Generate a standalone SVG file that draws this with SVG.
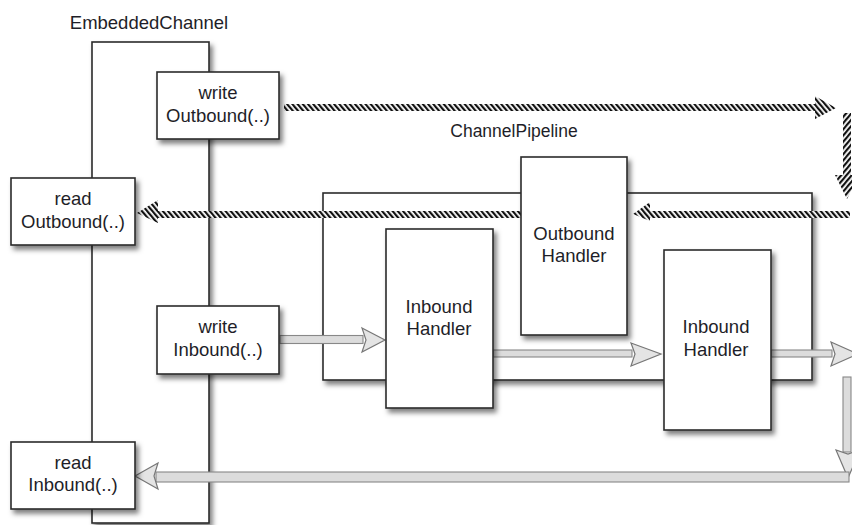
<svg xmlns="http://www.w3.org/2000/svg" width="852" height="525" viewBox="0 0 852 525">
<style>
.box{fill:#fff;stroke:#2b2b2b;stroke-width:1.6;filter:url(#sh)}
.lbl{font-family:"Liberation Sans",Arial,sans-serif;font-size:18.5px;fill:#1e1e28;text-anchor:middle}
.title{font-family:"Liberation Sans",Arial,sans-serif;fill:#1e1e28;text-anchor:middle}
.hh{fill:url(#hatchH)}
.hv{fill:url(#hatchV)}
.gshaft{fill:#dcdcdc;stroke:#888;stroke-width:1.1}
.ghead{fill:#e4e4e4;stroke:#777;stroke-width:1.2;stroke-linejoin:miter}
</style>
<defs>
<filter id="sh" x="-20%" y="-20%" width="150%" height="150%">
<feDropShadow dx="3" dy="4" stdDeviation="2.5" flood-color="#000" flood-opacity="0.5"/>
</filter>
<pattern id="hatchH" patternUnits="userSpaceOnUse" width="4" height="4" patternTransform="rotate(-40)">
<rect x="0" y="0" width="4" height="4" fill="#fff"/>
<rect x="0" y="0" width="2.2" height="4" fill="#111"/>
</pattern>
<pattern id="hatchV" patternUnits="userSpaceOnUse" width="4" height="4" patternTransform="rotate(40)">
<rect x="0" y="0" width="4" height="4" fill="#fff"/>
<rect x="0" y="0" width="2.2" height="4" fill="#111"/>
</pattern>
</defs>
<rect width="852" height="525" fill="#fff"/>

<g id="embedded-channel">
<rect class="box" x="92" y="42" width="117" height="481"/>
<text class="title" x="149" y="29" font-size="18.5">EmbeddedChannel</text>
</g>

<g id="channel-pipeline">
<rect class="box" x="323" y="193" width="489" height="187"/>
<text class="title" x="514" y="137" font-size="17.5">ChannelPipeline</text>
</g>

<g id="connectors">
<rect class="hh" x="284" y="104" width="533" height="7"/>
<polygon class="hh" points="815,96 836,108 815,119"/>
<rect class="hv" x="843" y="113" width="8" height="64"/>
<polygon class="hv" points="835,175 859,175 847,199"/>
<rect class="hh" x="650" y="211" width="200" height="7"/>
<polygon class="hh" points="650,202 633,214 650,221"/>
<rect class="hh" x="158" y="211" width="370" height="7"/>
<polygon class="hh" points="158,200 137,213 158,223"/>
<rect class="gshaft" x="280" y="335.5" width="83" height="8"/>
<polygon class="ghead" points="362,328 385,340 362,352 366,340"/>
<rect class="gshaft" x="493" y="350" width="139" height="7"/>
<polygon class="ghead" points="631,343 661,354 631,366 635,354"/>
<rect class="gshaft" x="771" y="350" width="61" height="7"/>
<polygon class="ghead" points="831,342 858,354 831,366 835,354"/>
<rect class="gshaft" x="843" y="377" width="8" height="75"/>
<polygon class="ghead" points="836,450 848,478 860,450 848,454"/>
<rect class="gshaft" x="156" y="472" width="693" height="10"/>
<polygon class="ghead" points="158,463 135,476 158,489 154,476"/>
</g>

<g id="write-outbound">
<rect class="box" x="157" y="72" width="122" height="67"/>
<text class="lbl" x="218" y="99">write</text>
<text class="lbl" x="218" y="122">Outbound(..)</text>
</g>

<g id="read-outbound">
<rect class="box" x="11" y="178" width="124" height="67"/>
<text class="lbl" x="73" y="205">read</text>
<text class="lbl" x="73" y="228">Outbound(..)</text>
</g>

<g id="write-inbound">
<rect class="box" x="157" y="306" width="122" height="68"/>
<text class="lbl" x="218" y="333">write</text>
<text class="lbl" x="218" y="356">Inbound(..)</text>
</g>

<g id="read-inbound">
<rect class="box" x="11" y="442" width="124" height="67"/>
<text class="lbl" x="73" y="469">read</text>
<text class="lbl" x="73" y="491">Inbound(..)</text>
</g>

<g id="outbound-handler">
<rect class="box" x="521" y="157" width="106" height="178"/>
<text class="lbl" x="574" y="240">Outbound</text>
<text class="lbl" x="574" y="262">Handler</text>
</g>

<g id="inbound-handler-1">
<rect class="box" x="386" y="229" width="107" height="179"/>
<text class="lbl" x="439" y="313">Inbound</text>
<text class="lbl" x="439" y="335">Handler</text>
</g>

<g id="inbound-handler-2">
<rect class="box" x="664" y="250" width="107" height="180"/>
<text class="lbl" x="716" y="333">Inbound</text>
<text class="lbl" x="716" y="356">Handler</text>
</g>
</svg>
